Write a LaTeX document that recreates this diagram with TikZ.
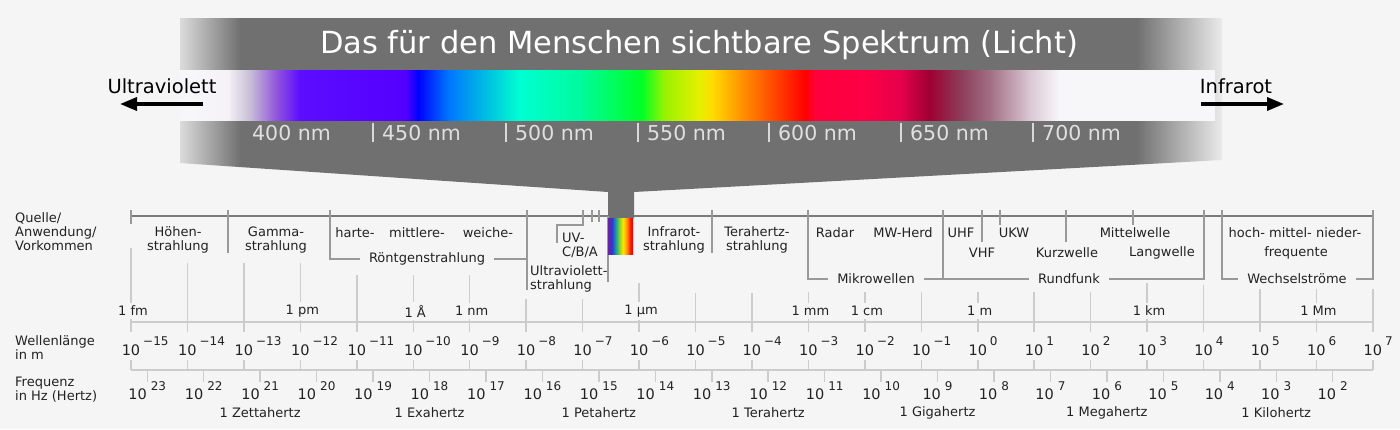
\documentclass[tikz,border=0pt]{standalone}
\usepackage{fontspec}
\setmainfont{DejaVu Sans}
\usetikzlibrary{arrows.meta}

\definecolor{bgc}{RGB}{245,245,245}
\definecolor{txtc}{RGB}{34,34,34}
\newcommand\expfont{\fontsize{12}{13}\selectfont}

% grey band, fading out at both ends
\pgfdeclarehorizontalshading{bandfade}{100bp}{%
  rgb(0bp)=(0.88,0.88,0.88); rgb(25bp)=(0.86,0.86,0.86); rgb(27.9bp)=(0.44,0.44,0.44);
  rgb(70.9bp)=(0.44,0.44,0.44); rgb(75bp)=(0.92,0.92,0.92); rgb(100bp)=(0.92,0.92,0.92)}

% visible spectrum
\pgfdeclarehorizontalshading{spectrum}{100bp}{%
  rgb(0bp)=(0.97,0.97,0.98); rgb(25bp)=(0.97,0.97,0.98); rgb(27.3bp)=(0.96,0.95,0.97);
  rgb(28.4bp)=(0.78,0.74,0.84); rgb(29.6bp)=(0.58,0.35,0.86); rgb(30.8bp)=(0.36,0.05,1);
  rgb(35.9bp)=(0.33,0,1); rgb(36.5bp)=(0,0,1); rgb(38bp)=(0,0.47,1); rgb(40bp)=(0,0.78,0.87);
  rgb(41.4bp)=(0,1,0.82); rgb(44.3bp)=(0,0.98,0.62); rgb(47.3bp)=(0,1,0.15); rgb(48.4bp)=(0.6,0.95,0);
  rgb(50.1bp)=(0.9,0.94,0); rgb(50.7bp)=(1,0.86,0); rgb(52.5bp)=(1,0.5,0); rgb(55.2bp)=(1,0,0);
  rgb(55.7bp)=(1,0,0.24); rgb(58.3bp)=(0.98,0,0.27); rgb(59.8bp)=(0.9,0,0.3); rgb(61.2bp)=(0.62,0,0.2);
  rgb(62.7bp)=(0.55,0.24,0.35); rgb(64.1bp)=(0.63,0.43,0.51); rgb(66.1bp)=(0.86,0.79,0.84);
  rgb(67.5bp)=(0.97,0.97,0.98); rgb(75bp)=(0.97,0.97,0.98); rgb(100bp)=(0.97,0.97,0.98)}

% small rainbow on the scale
\pgfdeclarehorizontalshading{minispec}{100bp}{%
  rgb(0bp)=(0.4,0.15,0.6); rgb(25bp)=(0.4,0.15,0.6); rgb(33bp)=(0.2,0.2,0.85);
  rgb(41bp)=(0.1,0.65,0.6); rgb(49bp)=(0.6,0.85,0.1); rgb(55bp)=(1,0.9,0);
  rgb(63bp)=(1,0.55,0); rgb(69bp)=(1,0.1,0); rgb(75bp)=(0.9,0,0); rgb(100bp)=(0.9,0,0)}

\begin{document}
\begin{tikzpicture}[
    x=1pt, y=-1pt,
    lbl/.style={font=\fontsize{13}{14}\selectfont, text=txtc, align=center, inner sep=0pt},
    brlbl/.style={lbl, fill=bgc, inner xsep=9pt, inner ysep=2pt},
    unitlbl/.style={lbl, fill=bgc, inner ysep=3pt, inner xsep=1pt},
    explbl/.style={font=\fontsize{14.5}{16}\selectfont, text=txtc, inner sep=0pt, anchor=base},
    title/.style={font=\fontsize{30.5}{32}\selectfont, text=white, inner sep=0pt},
    nmlbl/.style={font=\fontsize{20.5}{22}\selectfont, text=white!88!black, anchor=west, inner sep=0pt},
    sidelbl/.style={font=\fontsize{19.5}{22}\selectfont, text=black, inner sep=0pt},
    mainline/.style={draw=black!52, line width=2.5pt},
    brline/.style={draw=black!40, line width=2pt},
    decline/.style={draw=black!20, line width=1.5pt},
    bigarrow/.style={line width=3.5pt, -{Triangle[length=17pt, width=13pt]}}
]
    \fill[bgc] (0,0) rectangle (1400,429);
    \useasboundingbox (0,0) rectangle (1400,429);

    % Top line of the scale
    \draw[mainline] (131,216) -- (1373,216);

    % Visible band with spectrum
    \shade[shading=bandfade] (180,18) -- (1222,18) -- (1222,160) -- (634,192) -- (634,218)
        -- (608,218) -- (608,192) -- (180,163) -- cycle;
    \shade[shading=spectrum] (180,70) rectangle (1215,120);
    \node[title] (title) at (699,45) {Das für den Menschen sichtbare Spektrum (Licht)};
    \node[nmlbl] (nm400) at (252,133) {400 nm};
    \foreach \x/\nm in {373/450, 506/500, 638/550, 769/600, 901/650, 1033/700} {
        \draw[white!85!black, line width=1.5pt] (\x,123) -- (\x,142);
        \node[nmlbl] (nm\nm) at (\x+9,133) {\nm\ nm};
    }

    % Side arrows
    \node[sidelbl] (uv) at (162,86) {Ultraviolett};
    \coordinate (uvs) at (203,104);
    \coordinate (uve) at (120,104);
    \draw[bigarrow] (uvs) -- (uve);
    \node[sidelbl] (ir) at (1236,86) {Infrarot};
    \coordinate (irs) at (1201,104);
    \coordinate (ire) at (1284,104);
    \draw[bigarrow] (irs) -- (ire);

    % Dividers
    \foreach \x/\yb in {131/224, 228/253, 592/222, 599/222, 712/253, 982/242, 1000/225, 1066/242, 1133/225}
        \draw[brline] (\x,210) -- (\x,\yb);
    \draw[brline] (583,210) |- (557,225) -- (557,243);
    \draw[brline] (608,216) -- (608,282);
    \shade[shading=minispec] (608,218) rectangle (633,254);

    % Sources
    \node[lbl, anchor=west, align=left] (quelle) at (15,232) {Quelle/\\Anwendung/\\Vorkommen};
    \node[lbl] (hoehen) at (178,240) {Höhen-\\strahlung};
    \node[lbl] (gamma) at (276,240) {Gamma-\\strahlung};
    \node[lbl] (harte) at (355,233) {harte-};
    \node[lbl] (mittlere) at (417,233) {mittlere-};
    \node[lbl] (weiche) at (488,233) {weiche-};
    \node[lbl, anchor=west, align=left] (uvcba) at (562,245) {UV-\\C/B/A};
    \node[lbl, anchor=west, align=left] (uvstr) at (530,279) {Ultraviolett-\\strahlung};
    \node[lbl] (infra) at (674,240) {Infrarot-\\strahlung};
    \node[lbl] (tera) at (757,240) {Terahertz-\\strahlung};
    \node[lbl] (radar) at (835,233) {Radar};
    \node[lbl] (mwherd) at (903,233) {MW-Herd};
    \node[lbl] (uhf) at (961,233) {UHF};
    \node[lbl] (vhf) at (982,253) {VHF};
    \node[lbl] (ukw) at (1014,233) {UKW};
    \node[lbl] (kurz) at (1067,253) {Kurzwelle};
    \node[lbl] (mittel) at (1135,233) {Mittelwelle};
    \node[lbl] (lang) at (1162,253) {Langwelle};
    \node[lbl] (hmn) at (1295,233) {hoch- mittel- nieder-};
    \node[lbl] (frequente) at (1296,253) {frequente};

    % Brackets
    \node[brlbl] (roent) at (427,259) {Röntgenstrahlung};
    \node[brlbl] (mikro) at (876,279) {Mikrowellen};
    \node[brlbl] (rund) at (1069,279) {Rundfunk};
    \node[brlbl] (wechsel) at (1297,279) {Wechselströme};
    \coordinate (rl) at (330,210);
    \coordinate (rr) at (527,210);
    \coordinate (ml) at (808,210);
    \coordinate (mr) at (943,210);
    \coordinate (fr) at (1204,210);
    \coordinate (wl) at (1222,210);
    \coordinate (wr) at (1373,210);
    \draw[brline] (rl) |- (roent);
    \draw[brline] (roent) -| (rr);
    \draw[brline] (rr) -- ++(0,80);
    \draw[brline] (ml) |- (mikro);
    \draw[brline] (mikro) -| (mr);
    \draw[brline] (mr) |- (rund);
    \draw[brline] (rund) -| (fr);
    \draw[brline] (wl) |- (wechsel);
    \draw[brline] (wechsel) -| (wr);

    % Decades
    \foreach \i/\yt in {0/248, 1/263, 2/263, 3/263, 4/275, 5/275, 6/275, 7/299, 8/299, 9/283, 10/293, 11/293,
                        12/292, 13/292, 14/292, 15/292, 16/292, 17/292, 18/283, 19/285, 20/289, 21/289, 22/289}
        \draw[decline] ({131+56.45*\i},\yt) -- ({131+56.45*\i},332);
    \draw[decline] (131,322) -- (1373,322);
    \draw[decline] (131,370) -- (1373,370);
    \foreach \i in {0,...,22}
        \draw[decline] ({131+56.45*\i},360) -- ({131+56.45*\i},370);
    \foreach \k in {2,...,23}
        \draw[decline] ({994+56.45*(8-\k)},370) -- ({994+56.45*(8-\k)},382);

    % Units
    \foreach \i/\u in {0/1 fm, 3/1 pm, 5/1 Å, 6/1 nm, 9/1 µm, 12/1 mm, 13/1 cm, 15/1 m, 18/1 km, 21/1 Mm}
        \node[unitlbl] (u\i) at ({133+56.45*\i},311) {\u};

    % Wavelength
    \node[lbl, anchor=west, align=left] (wellen) at (15,348) {Wellenlänge\\in m};
    \foreach \i in {0,...,22} {
        \pgfmathtruncatemacro\e{\i-15}
        \node[explbl] (wl\i) at ({131+56.45*\i},355)
            {10\rlap{\hspace{3pt}\raisebox{10pt}{\expfont\ifnum\e<0 −\number-\e\else\e\fi}}};
    }

    % Frequency
    \node[lbl, anchor=west, align=left] (frequ) at (15,390) {Frequenz\\in Hz (Hertz)};
    \foreach \k in {2,...,23}
        \node[explbl] (fq\k) at ({994+56.45*(8-\k)},399) {10\hspace{4pt}\raisebox{9pt}{\expfont\k}};
    \foreach \k/\n in {21/Zettahertz, 18/Exahertz, 15/Petahertz, 12/Terahertz, 9/Gigahertz, 6/Megahertz, 3/Kilohertz}
        \node[lbl] (fn\k) at ({994+56.45*(8-\k)},413) {1 \n};
\end{tikzpicture}
\end{document}
